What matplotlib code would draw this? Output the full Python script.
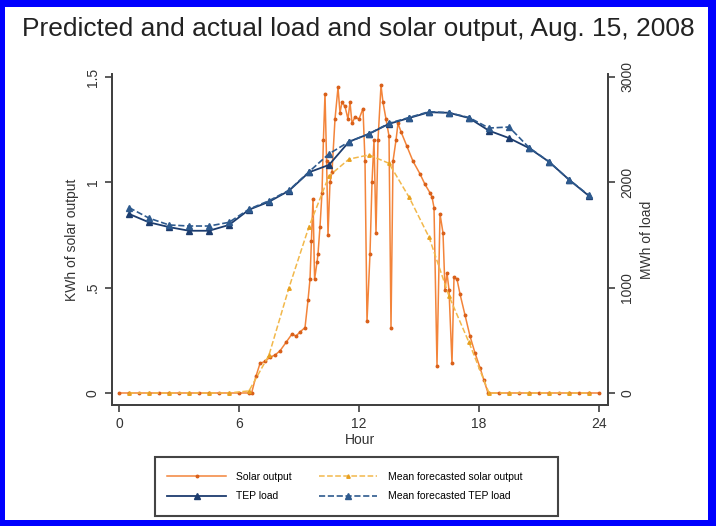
"""
Predicted and actual load and solar output, Aug. 15, 2008

Solar output on the left axis (KWh), TEP load on the right axis (MWh)
"""
import matplotlib
matplotlib.use("Agg")
import matplotlib.pyplot as plt
from matplotlib.patches import Rectangle

plt.rcParams['font.family'] = ['Liberation Sans', 'DejaVu Sans']

# hourly load, actual and mean forecast (MWh), at the half hour
load_hour = [0.5, 1.5, 2.5, 3.5, 4.5, 5.5, 6.5, 7.5, 8.5, 9.5, 10.5, 11.5,
             12.5, 13.5, 14.5, 15.5, 16.5, 17.5, 18.5, 19.5, 20.5, 21.5, 22.5, 23.5]
load_actual = [1700, 1620, 1575, 1540, 1540, 1595, 1740, 1815, 1920, 2095, 2165, 2385,
               2460, 2555, 2610, 2665, 2660, 2610, 2490, 2420, 2325, 2195, 2025, 1870]
load_fcst = [1760, 1660, 1595, 1585, 1585, 1620, 1745, 1825, 1925, 2100, 2270, 2385,
             2460, 2560, 2615, 2670, 2660, 2615, 2515, 2525, 2330, 2195, 2025, 1875]

# mean forecasted solar output (KWh), hourly
fsolar_hour = load_hour
fsolar_kwh = [0, 0, 0, 0, 0, 0, 0.01, 0.18, 0.50, 0.79, 1.03, 1.11,
              1.13, 1.09, 0.93, 0.74, 0.46, 0.24, 0, 0, 0, 0, 0, 0]

# actual solar output (KWh)
solar_hour = [0.0, 0.5, 1.0, 1.5, 2.0, 2.5, 3.0, 3.5, 4.0, 4.5, 5.0, 5.5, 6.0, 6.5,
              6.63, 6.85, 7.05, 7.3, 7.55, 7.8, 8.05, 8.35, 8.65, 8.85, 9.05, 9.3,
              9.45, 9.55, 9.62, 9.7, 9.78, 9.9, 9.95, 10.05, 10.15, 10.22, 10.3, 10.38,
              10.45, 10.55, 10.65, 10.8, 10.95, 11.05, 11.15, 11.3, 11.45, 11.55, 11.65,
              11.8, 12.0, 12.2, 12.3, 12.4, 12.55, 12.65, 12.75, 12.85, 12.95, 13.1,
              13.2, 13.35, 13.5, 13.6, 13.7, 13.85, 13.95, 14.1, 14.4, 14.7, 15.05,
              15.3, 15.55, 15.65, 15.75, 15.9, 16.05, 16.2, 16.3, 16.4, 16.5, 16.65,
              16.75, 16.9, 17.05, 17.3, 17.55, 17.8, 18.05, 18.25, 18.45,
              19.0, 19.5, 20.0, 20.5, 21.0, 21.5, 22.0, 22.5, 23.0, 23.5, 24.0]
solar_kwh = [0, 0, 0, 0, 0, 0, 0, 0, 0, 0, 0, 0, 0, 0,
             0.0, 0.08, 0.14, 0.15, 0.17, 0.18, 0.20, 0.24, 0.28, 0.27, 0.29, 0.31,
             0.44, 0.54, 0.72, 0.92, 0.54, 0.62, 0.66, 0.79, 0.95, 1.20, 1.42, 1.10,
             0.75, 1.00, 1.05, 1.30, 1.45, 1.33, 1.38, 1.36, 1.30, 1.38, 1.28,
             1.31, 1.30, 1.35, 1.10, 0.34, 0.66, 1.00, 1.20, 0.76, 1.20, 1.46,
             1.38, 1.30, 1.22, 0.31, 1.10, 1.20, 1.28, 1.24, 1.17, 1.10, 1.04,
             0.99, 0.95, 0.93, 0.88, 0.13, 0.85, 0.76, 0.49, 0.57, 0.49, 0.14,
             0.55, 0.54, 0.47, 0.37, 0.27, 0.19, 0.12, 0.06, 0.0,
             0, 0, 0, 0, 0, 0, 0, 0, 0, 0, 0]

hour_ticks = [0, 6, 12, 18, 24]
kwh_ticks = [0, 0.5, 1, 1.5]
kwh_labels = ["0", ".5", "1", "1.5"]
mwh_ticks = [0, 1000, 2000, 3000]

W, H = 716, 526
fig = plt.figure(figsize=(W/100, H/100), dpi=100)
fig.patch.set_facecolor("#0000ff")
fig.add_artist(Rectangle((5/W, 6/H), 1 - 13/W, 1 - 13/H, transform=fig.transFigure,
                         facecolor="white", edgecolor="none", zorder=-10))

ax = fig.add_axes([112/W, 1 - 405/H, 496/W, 331/H])
ax2 = ax.twinx()
for a in (ax, ax2):
  a.set_facecolor("none")
  a.spines["top"].set_visible(False)
  for s in ("left", "right", "bottom"):
    a.spines[s].set_color("#404040")
    a.spines[s].set_linewidth(1.3)

grey = "#333333"
solar, = ax.plot(solar_hour, solar_kwh, "-", color="#f3843a", lw=1.1,
                 marker="o", ms=1.8, mfc="#d9601a", mec="#d9601a", label="Solar output")
fsolar, = ax.plot(fsolar_hour, fsolar_kwh, "--", color="#f2b84b", lw=1.1,
                  marker="^", ms=2.5, mfc="#e8a020", mec="#e8a020",
                  label="Mean forecasted solar output")
load, = ax2.plot(load_hour, load_actual, "-", color="#1c3c6e", lw=1.3,
                 marker="^", ms=5, mfc="#1c3c6e", mec="#1c3c6e", label="TEP load")
fload, = ax2.plot(load_hour, load_fcst, "--", color="#2e5a8e", lw=1.2,
                  marker="^", ms=5, mfc="#2e5a8e", mec="#2e5a8e",
                  label="Mean forecasted TEP load")

ax.set_xlim(-0.35, 24.45)
ax.set_ylim(-0.057, 1.514)
ax2.set_ylim(-114, 3028)

ax.set_xticks(hour_ticks)
ax.set_yticks(kwh_ticks)
ax.set_yticklabels(kwh_labels, rotation=90, va="center")
ax2.set_yticks(mwh_ticks)
ax2.set_yticklabels([str(t) for t in mwh_ticks], rotation=90, va="center")
ax.tick_params(axis="both", direction="out", length=5, width=1.2, color="#404040",
               labelsize=10, labelcolor=grey, pad=4)
ax2.tick_params(axis="y", direction="out", length=5, width=1.2, color="#404040",
                labelsize=10, labelcolor=grey, pad=4)

ax.set_xlabel("Hour", fontsize=10, color=grey, labelpad=1)
ax.set_ylabel("KWh of solar output", fontsize=10, color=grey, labelpad=5)
ax2.set_ylabel("MWh of load", fontsize=10, color=grey, labelpad=4, rotation=90)

fig.text(0.5, 1 - 36/H, "Predicted and actual load and solar output, Aug. 15, 2008",
         ha="center", va="baseline", fontsize=19, color="#222222")

# legend box drawn by hand, entries laid out by matplotlib
fig.add_artist(Rectangle((155/W, 1 - 516/H), 403/W, 59/H, transform=fig.transFigure,
                         facecolor="white", edgecolor="#444444", lw=1.5))
fig.legend([solar, load, fsolar, fload],
           ["Solar output", "TEP load", "Mean forecasted solar output",
            "Mean forecasted TEP load"],
           ncol=2, frameon=False, fontsize=7.5, handlelength=5.6,
           columnspacing=2.6, handletextpad=1.0, labelspacing=0.9,
           loc="center left", bbox_to_anchor=(158/W, 1 - 486.5/H))

fig.savefig("out.png", dpi=100, facecolor=fig.get_facecolor())
